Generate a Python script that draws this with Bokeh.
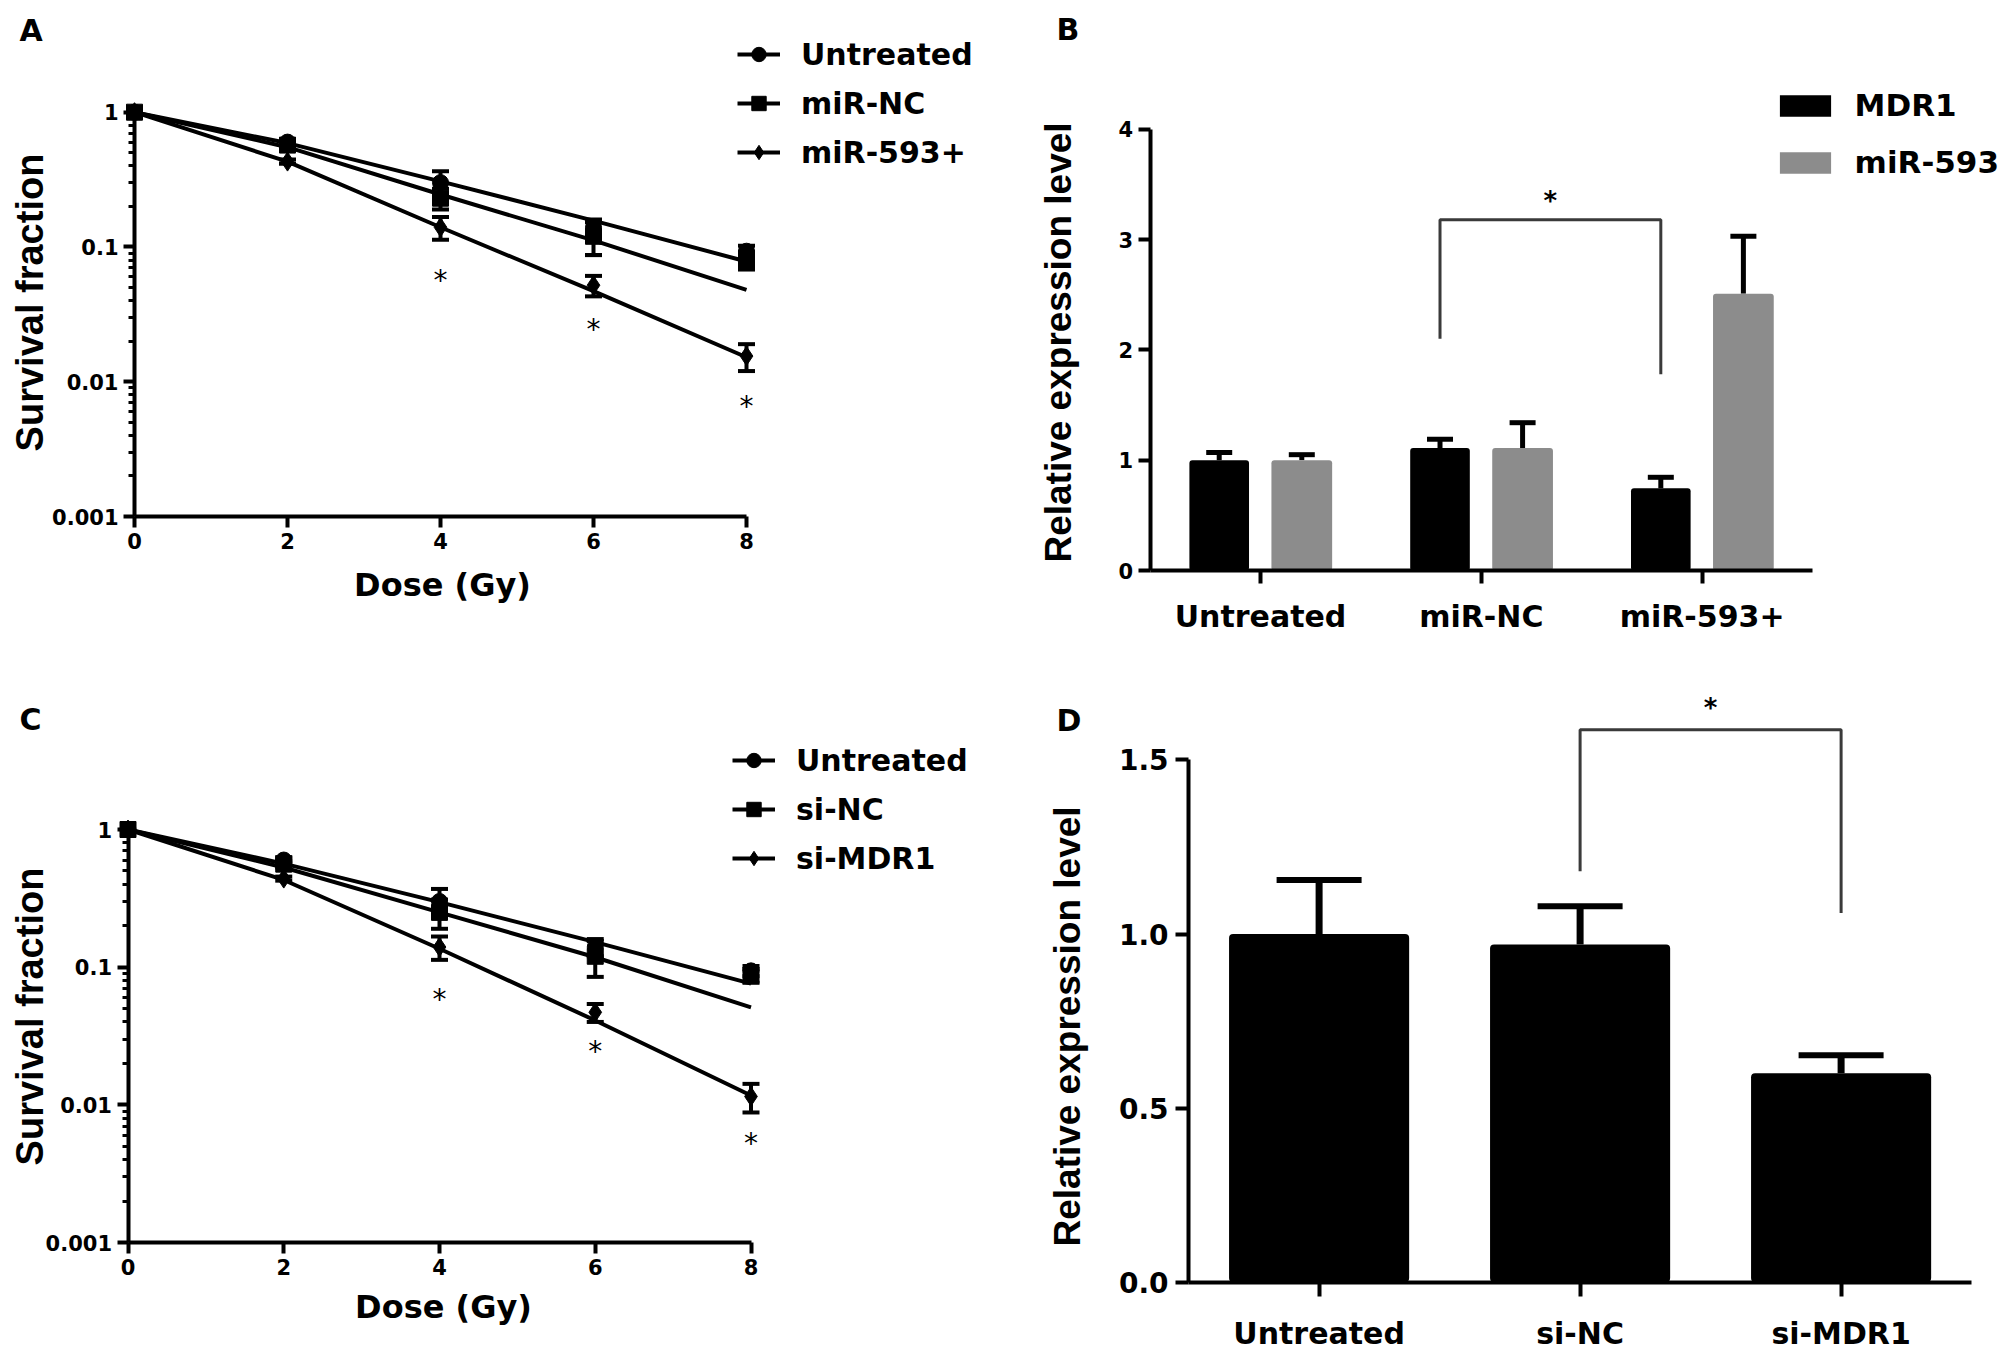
import math

from bokeh.core.properties import value
from bokeh.embed import file_html
from bokeh.layouts import column, row
from bokeh.models import (ColumnDataSource, CustomJSTickFormatter, FixedTicker, Label, Legend,
                          LegendItem, NumeralTickFormatter, Range1d, TeeHead, Whisker)
from bokeh.plotting import figure
from bokeh.resources import INLINE
from bokeh.transform import dodge

# ---------------- data ----------------
DOSE = [0, 2, 4, 6, 8]

# panel A: clonogenic survival, miR-593
A_LABELS = ["Untreated", "miR-NC", "miR-593+"]
A_MEAN = [
    [1.0, 0.60, 0.30, 0.14, 0.093],
    [1.0, 0.57, 0.23, 0.12, 0.080],
    [1.0, 0.43, 0.14, 0.052, 0.0155],
]
A_SD = [
    [0, 0.03, 0.065, 0.02, 0.009],
    [0, 0.03, 0.040, 0.033, 0.012],
    [0, 0.015, 0.027, 0.009, 0.0035],
]
A_FIT = [
    [1.0, 0.59, 0.307, 0.157, 0.078],
    [1.0, 0.55, 0.245, 0.112, 0.048],
    [1.0, 0.43, 0.140, 0.047, 0.0152],
]
A_STAR_X = [4, 6, 8]
A_STAR_Y = [0.060, 0.026, 0.007]

# panel C: clonogenic survival, MDR1 knock-down
C_LABELS = ["Untreated", "si-NC", "si-MDR1"]
C_MEAN = [
    [1.0, 0.60, 0.30, 0.14, 0.094],
    [1.0, 0.56, 0.25, 0.12, 0.087],
    [1.0, 0.44, 0.14, 0.047, 0.0115],
]
C_SD = [
    [0, 0.03, 0.07, 0.02, 0.008],
    [0, 0.03, 0.06, 0.035, 0.010],
    [0, 0.015, 0.027, 0.007, 0.0027],
]
C_FIT = [
    [1.0, 0.565, 0.297, 0.152, 0.076],
    [1.0, 0.53, 0.25, 0.118, 0.051],
    [1.0, 0.43, 0.136, 0.041, 0.0117],
]
C_STAR_X = [4, 6, 8]
C_STAR_Y = [0.062, 0.026, 0.0056]

# panel B: relative expression, grouped
B_GROUPS = ["Untreated", "miR-NC", "miR-593+"]
B_SERIES = ["MDR1", "miR-593"]
B_MDR1 = [1.0, 1.11, 0.745]
B_MDR1_SD = [0.07, 0.08, 0.10]
B_MIR = [1.0, 1.11, 2.51]
B_MIR_SD = [0.05, 0.23, 0.52]
B_BRACKET_G = [1, 1, 2, 2]          # group index of each bracket point
B_BRACKET_Y = [2.10, 3.18, 3.18, 1.78]
B_STAR_Y = 3.35

# panel D: relative expression level of MDR1
D_GROUPS = ["Untreated", "si-NC", "si-MDR1"]
D_VALUE = [1.0, 0.97, 0.60]
D_SD = [0.155, 0.11, 0.052]
D_BRACKET_G = [1, 1, 2, 2]
D_BRACKET_Y = [1.18, 1.587, 1.587, 1.06]
D_STAR_Y = 1.65

FONT = "DejaVu Sans"
YFONT = "Liberation Sans"
GREY = "#8c8c8c"
MARKERS = ["circle", "square", "diamond"]
MSIZE = [16, 16, 19]


def new_figure(g, x_range, y_range, **kw):
    p = figure(width=g["w"], height=g["h"], x_range=x_range, y_range=y_range,
               min_border_left=0, min_border_right=0, min_border_top=0, min_border_bottom=0,
               output_backend="svg", toolbar_location=None, **kw)
    p.outline_line_color = None
    p.grid.visible = False
    return p


def style_axis(ax, tick_size, tick_len):
    ax.axis_line_width = 4
    ax.axis_line_color = "black"
    ax.major_tick_line_width = 4
    ax.major_tick_out = tick_len
    ax.major_tick_in = 0
    ax.minor_tick_in = 0
    ax.major_label_text_font = FONT
    ax.major_label_text_font_style = "bold"
    ax.major_label_text_font_size = tick_size
    ax.major_label_text_color = "black"


def add_text(p, g, text, x, y, size, font=FONT, angle=0.0, align="center"):
    # x, y are page pixels (centre of the text); the frame fills the whole figure
    p.add_layout(Label(x=x - g["left"], y=g["top"] + g["h"] - y, x_units="screen", y_units="screen",
                       text=text, text_font=font, text_font_style="bold", text_font_size=size,
                       text_color="black", angle=angle, text_align=align, text_baseline="middle"))


def survival_panel(letter, labels, means, sds, fits, star_x, star_y, g):
    ppg = (g["x8"] - g["x0"]) / 8
    ppd = (g["y3"] - g["y1"]) / 3
    xs = -(g["x0"] - g["left"]) / ppg
    ys = 10 ** (-3 - (g["top"] + g["h"] - g["y3"]) / ppd)
    ye = 10 ** ((g["y1"] - g["top"]) / ppd)
    p = new_figure(g, Range1d(xs, xs + g["w"] / ppg), Range1d(ys, ye), y_axis_type="log")

    items = []
    for i, lab in enumerate(labels):
        fit = p.line(DOSE, fits[i], line_color="black", line_width=4)
        keep = [k for k in range(len(DOSE)) if sds[i][k] > 0]
        src = ColumnDataSource(dict(
            d=[DOSE[k] for k in keep],
            lo=[means[i][k] - sds[i][k] for k in keep],
            hi=[means[i][k] + sds[i][k] for k in keep],
        ))
        p.add_layout(Whisker(base="d", lower="lo", upper="hi", source=src, dimension="height",
                             line_width=4, line_color="black",
                             upper_head=TeeHead(size=17, line_width=4, line_color="black"),
                             lower_head=TeeHead(size=17, line_width=4, line_color="black")))
        pts = p.scatter(DOSE, means[i], marker=MARKERS[i], size=MSIZE[i],
                        fill_color="black", line_color="black")
        items.append(LegendItem(label=lab, renderers=[fit, pts]))

    p.text(star_x, star_y, text=value("*"), text_font=value(FONT), text_font_size=value("28px"),
           text_align="center", text_baseline="middle", text_color="black", y_offset=4)

    style_axis(p.xaxis[0], "21px", 11)
    style_axis(p.yaxis[0], "21px", 11)
    p.xaxis.fixed_location = 0.001
    p.xaxis.ticker = FixedTicker(ticks=DOSE)
    p.xaxis.bounds = (0, 8)
    p.xaxis.minor_tick_line_color = None
    p.xaxis.major_label_standoff = 5

    p.yaxis.fixed_location = 0
    p.yaxis.bounds = (0.001, 1)
    p.yaxis.ticker = FixedTicker(ticks=[0.001, 0.01, 0.1, 1],
                                 minor_ticks=[k * 10.0 ** e for e in (-3, -2, -1) for k in range(2, 10)])
    p.yaxis.formatter = CustomJSTickFormatter(code="return tick.toString()")
    p.yaxis.minor_tick_out = 6
    p.yaxis.minor_tick_line_width = 3
    p.yaxis.major_label_standoff = 5

    leg_h = 36 * 3 + 13 * 2
    p.add_layout(Legend(items=items,
                        location=(g["leg_x"] - g["left"], g["top"] + g["h"] - g["leg_top"] - leg_h),
                        glyph_width=43, glyph_height=36, label_height=36, spacing=13, padding=0,
                        label_standoff=21, label_text_font=FONT, label_text_font_style="bold",
                        label_text_font_size="30px", label_text_color="black",
                        border_line_color=None, background_fill_alpha=0))
    add_text(p, g, "Dose (Gy)", g["xlab"][0], g["xlab"][1], "32px")
    add_text(p, g, "Survival fraction", g["ylab"][0], g["ylab"][1], "38px", font=YFONT,
             angle=math.pi / 2)
    add_text(p, g, letter, g["letter"][0], g["letter"][1], "30px", align="left")
    return p


def bar_figure(g, x_center0, spacing, y0, unit, ticks, tick_size, tick_standoff, groups):
    xs = (g["left"] - x_center0) / spacing
    ys = -(g["top"] + g["h"] - y0) / unit
    p = new_figure(g, Range1d(xs, xs + g["w"] / spacing), Range1d(ys, ys + g["h"] / unit))
    style_axis(p.xaxis[0], "30px", 13)
    style_axis(p.yaxis[0], tick_size, 12)
    p.xaxis.fixed_location = 0
    p.xaxis.bounds = (-0.5, len(groups) - 0.5)
    p.xaxis.ticker = FixedTicker(ticks=list(range(len(groups))))
    p.xaxis.formatter = CustomJSTickFormatter(args=dict(names=groups),
                                              code="return names[Math.round(tick)]")
    p.xaxis.minor_tick_line_color = None
    p.xaxis.major_label_standoff = tick_standoff
    p.yaxis.fixed_location = -0.5
    p.yaxis.bounds = (0, ticks[-1])
    p.yaxis.ticker = FixedTicker(ticks=ticks)
    p.yaxis.minor_tick_line_color = None
    return p


# ---------------- panel A and C ----------------
pA = survival_panel("A", A_LABELS, A_MEAN, A_SD, A_FIT, A_STAR_X, A_STAR_Y,
                    dict(left=0, top=0, w=1004, h=680, x0=134, x8=746, y1=111.7, y3=516,
                         leg_x=737, leg_top=36, xlab=(442, 584), ylab=(29, 302),
                         letter=(19, 30)))
pC = survival_panel("C", C_LABELS, C_MEAN, C_SD, C_FIT, C_STAR_X, C_STAR_Y,
                    dict(left=0, top=680, w=1004, h=680, x0=127.5, x8=750.5, y1=829, y3=1242,
                         leg_x=732, leg_top=742.4, xlab=(443, 1306), ylab=(29, 1016),
                         letter=(19, 719)))

# ---------------- panel B ----------------
gB = dict(left=1004, top=0, w=1002, h=680)
pB = bar_figure(gB, 1260, 220.8, 570, 110.3, [0, 1, 2, 3, 4], "21px", 15, B_GROUPS)
OFF = 0.187
srcB = ColumnDataSource(dict(
    x=list(range(len(B_GROUPS))), mdr1=B_MDR1, mir=B_MIR,
    mdr1_hi=[v + s for v, s in zip(B_MDR1, B_MDR1_SD)],
    mir_hi=[v + s for v, s in zip(B_MIR, B_MIR_SD)],
))
r1 = pB.vbar(x=dodge("x", -OFF), top="mdr1", width=0.27, source=srcB,
             fill_color="black", line_color=None, border_radius=3)
r2 = pB.vbar(x=dodge("x", OFF), top="mir", width=0.275, source=srcB,
             fill_color=GREY, line_color=None, border_radius=3)
for off, lo, hi in ((-OFF, "mdr1", "mdr1_hi"), (OFF, "mir", "mir_hi")):
    pB.add_layout(Whisker(base=dodge("x", off), lower=lo, upper=hi, source=srcB,
                          dimension="height", line_width=5, line_color="black", lower_head=None,
                          upper_head=TeeHead(size=26, line_width=5, line_color="black")))
pB.line(x=dodge("g", -OFF), y="y", source=ColumnDataSource(dict(g=B_BRACKET_G, y=B_BRACKET_Y)),
        line_color="#3a3a3a", line_width=3)
pB.text(x=[B_BRACKET_G[0] + 0.5 - OFF], y=[B_STAR_Y], text=value("*"), text_font=value(FONT),
        text_font_style="bold", text_font_size=value("26px"), text_align="center",
        text_baseline="middle")
pB.add_layout(Legend(items=[LegendItem(label=B_SERIES[0], renderers=[r1]),
                            LegendItem(label=B_SERIES[1], renderers=[r2])],
                     location=(1772.6 - 1004, 680 - 180.3), glyph_width=64, glyph_height=27,
                     label_height=27, spacing=21, padding=0, label_standoff=18,
                     label_text_font=FONT, label_text_font_style="bold", label_text_font_size="31px",
                     label_text_color="black", border_line_color=None, background_fill_alpha=0))
add_text(pB, gB, "Relative expression level", 1058, 342, "37px", font=YFONT, angle=math.pi / 2)
add_text(pB, gB, "B", 1056, 29, "30px", align="left")

# ---------------- panel D ----------------
gD = dict(left=1004, top=680, w=1002, h=680)
pD = bar_figure(gD, 1318.6, 261, 1281.6, 348.1, [0, 0.5, 1.0, 1.5], "28px", 20, D_GROUPS)
pD.yaxis.formatter = NumeralTickFormatter(format="0.0")
pD.yaxis.major_label_standoff = 7
pD.yaxis.major_tick_out = 13
pD.xaxis.major_tick_out = 14
srcD = ColumnDataSource(dict(x=list(range(len(D_GROUPS))), v=D_VALUE,
                             hi=[v + s for v, s in zip(D_VALUE, D_SD)]))
pD.vbar(x="x", top="v", width=0.69, source=srcD, fill_color="black", line_color=None,
        border_radius=4)
pD.add_layout(Whisker(base="x", lower="v", upper="hi", source=srcD, dimension="height",
                      line_width=7, line_color="black", lower_head=None,
                      upper_head=TeeHead(size=85, line_width=6, line_color="black")))
pD.line(x="g", y="y", source=ColumnDataSource(dict(g=D_BRACKET_G, y=D_BRACKET_Y)),
        line_color="#3a3a3a", line_width=3)
pD.text(x=[D_BRACKET_G[0] + 0.5], y=[D_STAR_Y], text=value("*"), text_font=value(FONT),
        text_font_style="bold", text_font_size=value("26px"), text_align="center",
        text_baseline="middle")
add_text(pD, gD, "Relative expression level", 1067, 1026, "37px", font=YFONT, angle=math.pi / 2)
add_text(pD, gD, "D", 1056, 720, "30px", align="left")

layout = column(row(pA, pB), row(pC, pD))
open("out.html", "w").write(file_html(layout, INLINE))
